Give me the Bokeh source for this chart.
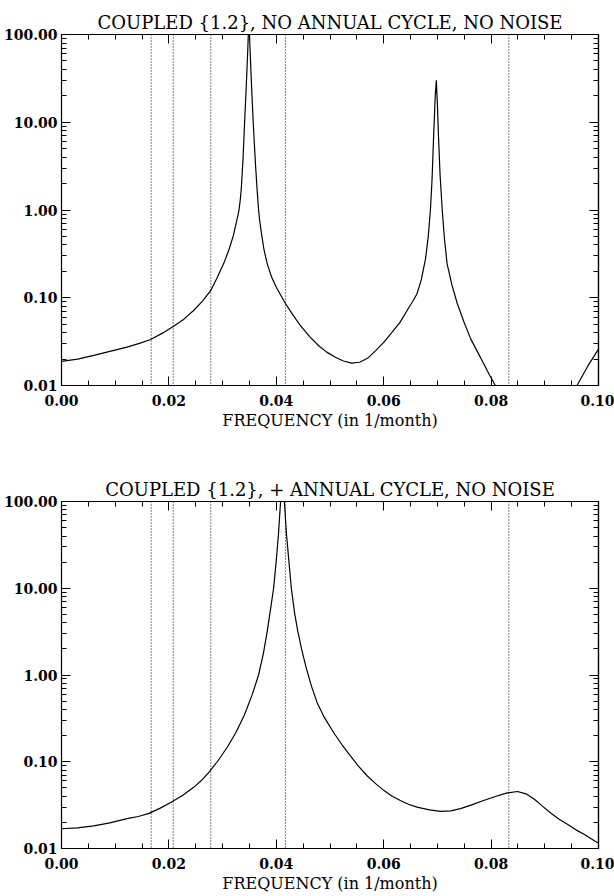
from bokeh.plotting import figure
from bokeh.models import (LinearAxis, LogAxis, FixedTicker, PrintfTickFormatter,
                          Span, ColumnDataSource, Range1d)
from bokeh.layouts import column
from bokeh.embed import file_html
from bokeh.resources import INLINE

# ---------------- data ----------------
title_top = "COUPLED {1.2}, NO ANNUAL CYCLE, NO NOISE"
title_bottom = "COUPLED {1.2}, + ANNUAL CYCLE, NO NOISE"
x_label = "FREQUENCY (in 1/month)"

# reference frequencies (periods 60, 48, 36, 24, 12 months)
marker_freqs = [0.0167, 0.0208, 0.0278, 0.0417, 0.0833]

freq_top = [0.000, 0.003, 0.006, 0.009, 0.0122, 0.0145, 0.0166, 0.0188, 0.0208,
            0.0228, 0.0246, 0.0263, 0.0278, 0.0290, 0.0302, 0.0312, 0.0320, 0.0326,
            0.0329, 0.0331, 0.0333, 0.0335, 0.0338, 0.0341, 0.0344, 0.0347, 0.0349,
            0.0351, 0.0354, 0.0357, 0.0361, 0.0364, 0.0367, 0.0369, 0.0372, 0.0377,
            0.0383, 0.0391, 0.0400, 0.0411, 0.0417, 0.0430, 0.0445, 0.0463, 0.0480,
            0.0494, 0.0510, 0.0525, 0.0540, 0.0555, 0.0570, 0.0585, 0.0600, 0.0615,
            0.0630, 0.0645, 0.0655, 0.0662, 0.0670, 0.0678, 0.0683, 0.0687, 0.0690,
            0.0693, 0.0696, 0.0698, 0.0700, 0.0702, 0.0705, 0.0709, 0.0713, 0.0718,
            0.0727, 0.0737, 0.0750, 0.0762, 0.0775, 0.0786, 0.0797, 0.0808, 0.0830,
            0.0860, 0.0900, 0.0935, 0.0960, 0.0980, 0.1000]
power_top = [0.0188, 0.0200, 0.0220, 0.0245, 0.0274, 0.0302, 0.0334, 0.0395, 0.0470,
             0.057, 0.0716, 0.092, 0.121, 0.17, 0.245, 0.355, 0.51, 0.74,
             0.89, 1.05, 1.32, 1.82, 3.8, 10.0, 25.0, 70.0, 160.0,
             70.0, 25.0, 10.0, 3.5, 1.8, 1.0, 0.76, 0.56, 0.355,
             0.245, 0.174, 0.132, 0.100, 0.086, 0.065, 0.048, 0.0356, 0.028,
             0.024, 0.0210, 0.0190, 0.0180, 0.0184, 0.0204, 0.0250, 0.031, 0.040,
             0.052, 0.074, 0.093, 0.111, 0.16, 0.28, 0.50, 1.0, 2.2,
             7.0, 20.0, 30.0, 16.0, 7.0, 2.5, 1.0, 0.48, 0.245,
             0.14, 0.086, 0.052, 0.034, 0.024, 0.0178, 0.0132, 0.0100, 0.0062,
             0.0045, 0.0042, 0.0055, 0.0100, 0.0166, 0.026]

freq_bot = [0.000, 0.003, 0.006, 0.009, 0.0122, 0.0143, 0.0163, 0.0184, 0.0205,
            0.0226, 0.0246, 0.0260, 0.0274, 0.0290, 0.0309, 0.0325, 0.0340, 0.0355,
            0.0367, 0.0376, 0.0383, 0.0389, 0.0395, 0.0400, 0.0404, 0.0408, 0.0412,
            0.0415, 0.0419, 0.0423, 0.0428, 0.0434, 0.0440, 0.0447, 0.0455, 0.0465,
            0.0476, 0.0490, 0.0507, 0.0522, 0.0538, 0.0553, 0.0569, 0.0585, 0.0600,
            0.0615, 0.0631, 0.0646, 0.0662, 0.0685, 0.0706, 0.0725, 0.0743, 0.0765,
            0.0786, 0.0808, 0.0830, 0.0849, 0.0865, 0.0880, 0.0895, 0.0911, 0.0926,
            0.0942, 0.0958, 0.0973, 0.0987, 0.1000]
power_bot = [0.0169, 0.0173, 0.0182, 0.0197, 0.0221, 0.0234, 0.0254, 0.0292, 0.0343,
             0.0412, 0.0507, 0.0603, 0.075, 0.100, 0.148, 0.219, 0.339, 0.59,
             1.0, 1.78, 3.16, 5.6, 10.0, 21.0, 42.0, 100.0, 316.0,
             100.0, 42.0, 22.0, 10.0, 5.2, 3.2, 2.0, 1.26, 0.76,
             0.48, 0.32, 0.216, 0.158, 0.117, 0.089, 0.069, 0.056, 0.0468,
             0.0403, 0.0357, 0.0324, 0.030, 0.0279, 0.0268, 0.0272, 0.0288, 0.032,
             0.0357, 0.0398, 0.0437, 0.0454, 0.0427, 0.0372, 0.031, 0.0257, 0.0219,
             0.019, 0.0164, 0.0146, 0.0129, 0.0115]

x_ticks = [0.0, 0.02, 0.04, 0.06, 0.08, 0.10]
x_minor = [0.005 * i for i in range(21)]
y_ticks = [0.01, 0.1, 1.0, 10.0, 100.0]
y_minor = [m * d for d in (0.01, 0.1, 1.0, 10.0) for m in range(2, 10)]

SERIF = "DejaVu Serif"


def style_axis(ax):
    ax.axis_line_color = "black"
    ax.axis_line_width = 1.2
    ax.major_tick_line_color = "black"
    ax.minor_tick_line_color = "black"
    ax.major_tick_in = 9
    ax.major_tick_out = 0
    ax.minor_tick_in = 5
    ax.minor_tick_out = 0
    ax.major_label_text_font = SERIF
    ax.major_label_text_font_style = "bold"
    ax.major_label_text_font_size = "14px"
    ax.major_label_text_color = "black"


def tick_only_axis(cls, ticks, length):
    # an axis drawing only unlabeled ticks inside the frame
    ax = cls(ticker=FixedTicker(ticks=[], minor_ticks=ticks))
    ax.axis_line_color = "black"
    ax.axis_line_width = 1.2
    ax.major_tick_in = 0
    ax.major_tick_out = 0
    ax.minor_tick_in = length
    ax.minor_tick_out = 0
    ax.minor_tick_line_color = "black"
    ax.major_label_standoff = 0
    return ax


def make(title, fx, fy, height, top_border, bottom_border):
    p = figure(width=614, height=height, x_range=Range1d(0.0, 0.1),
               y_range=Range1d(0.01, 100.0), y_axis_type="log",
               output_backend="svg", toolbar_location=None,
               min_border_left=61, min_border_right=16,
               min_border_top=top_border, min_border_bottom=bottom_border,
               title=title)
    p.title.align = "center"
    p.title.text_font = SERIF
    p.title.text_font_style = "normal"
    p.title.text_font_size = "18px"
    p.title.text_color = "black"
    p.title.standoff = 3
    p.xgrid.visible = False
    p.ygrid.visible = False
    p.outline_line_color = None

    xa = p.xaxis[0]
    xa.ticker = FixedTicker(ticks=x_ticks, minor_ticks=x_minor)
    xa.formatter = PrintfTickFormatter(format="%.2f")
    style_axis(xa)
    xa.major_label_standoff = 9
    xa.axis_label = x_label
    xa.axis_label_text_font = SERIF
    xa.axis_label_text_font_style = "normal"
    xa.axis_label_text_font_size = "16px"
    xa.axis_label_text_color = "black"
    xa.axis_label_standoff = 2

    ya = p.yaxis[0]
    ya.ticker = FixedTicker(ticks=y_ticks, minor_ticks=y_minor)
    ya.formatter = PrintfTickFormatter(format="%.2f")
    style_axis(ya)
    ya.major_label_standoff = 4

    p.add_layout(tick_only_axis(LinearAxis, x_ticks, 9), "above")
    p.add_layout(tick_only_axis(LinearAxis, x_minor, 5), "above")
    p.add_layout(tick_only_axis(LogAxis, y_ticks, 9), "right")
    p.add_layout(tick_only_axis(LogAxis, y_minor, 5), "right")

    for f in marker_freqs:
        p.add_layout(Span(location=f, dimension="height", line_color="black",
                          line_width=1, line_dash="1 2"))

    src = ColumnDataSource(dict(f=fx, p=fy))
    p.line("f", "p", source=src, line_color="black", line_width=1.2)
    return p


p1 = make(title_top, freq_top, power_top, 438, 34, 53)
p2 = make(title_bottom, freq_bot, power_bot, 458, 63, 48)

layout = column(p1, p2, spacing=0)
open("out.html", "w").write(file_html(layout, INLINE))
